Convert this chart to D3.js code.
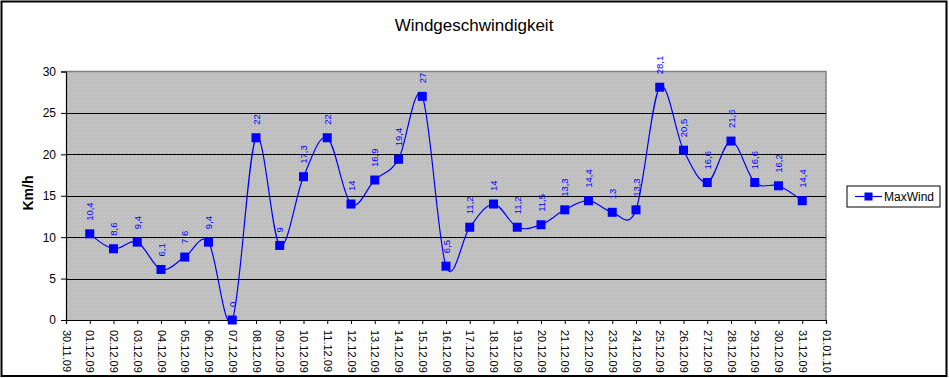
<!DOCTYPE html>
<html>
<head>
<meta charset="utf-8">
<script src="https://cdn.jsdelivr.net/npm/d3@7/dist/d3.min.js"></script>
<style>
  html, body { margin: 0; padding: 0; background: #fff; }
  svg { display: block; }
  text { font-family: Arial, "Liberation Sans", sans-serif; }
</style>
</head>
<body>
<svg id="chart" width="949" height="378"></svg>
<script>
// ---- data ----
const tickLabels = ["30.11.09","01.12.09","02.12.09","03.12.09","04.12.09","05.12.09","06.12.09","07.12.09",
  "08.12.09","09.12.09","10.12.09","11.12.09","12.12.09","13.12.09","14.12.09","15.12.09","16.12.09",
  "17.12.09","18.12.09","19.12.09","20.12.09","21.12.09","22.12.09","23.12.09","24.12.09","25.12.09",
  "26.12.09","27.12.09","28.12.09","29.12.09","30.12.09","31.12.09","01.01.10"];
const dayIndex = [1,2,3,4,5,6,7,8,9,10,11,12,13,14,15,16,17,18,19,20,21,22,23,24,25,26,27,28,29,30,31];
const maxWind = [10.4,8.6,9.4,6.1,7.6,9.4,0,22,9,17.3,22,14,16.9,19.4,27,6.5,11.2,14,11.2,11.5,13.3,14.4,13,13.3,28.1,20.5,16.6,21.6,16.6,16.2,14.4];
const yTicks = [0,5,10,15,20,25,30];
const seriesName = "MaxWind";
const chartTitle = "Windgeschwindigkeit";
const yTitle = "Km/h";

const svg = d3.select("#chart");
const W = 949, H = 378;
const pLeft = 66, pRight = 826, pTop = 71.5, pBottom = 320;

// outer frame
svg.append("rect").attr("x", 1.5).attr("y", 1.5).attr("width", W - 4).attr("height", H - 3.5)
  .attr("fill", "#fff").attr("stroke", "#000").attr("stroke-width", 2);

// pattern for plot texture
const defs = svg.append("defs");
const pat = defs.append("pattern").attr("id", "dots").attr("patternUnits", "userSpaceOnUse")
  .attr("width", 4).attr("height", 4);
pat.append("rect").attr("width", 4).attr("height", 4).attr("fill", "#bebebe");
pat.append("rect").attr("x", 0).attr("y", 0).attr("width", 1).attr("height", 1).attr("fill", "#d4d4d4");
pat.append("rect").attr("x", 2).attr("y", 2).attr("width", 1).attr("height", 1).attr("fill", "#cccccc");

const x = d3.scaleLinear().domain([0, tickLabels.length - 1]).range([pLeft, pRight]);
const y = d3.scaleLinear().domain([0, 30]).range([pBottom, pTop]);

// plot area
svg.append("rect").attr("x", pLeft).attr("y", pTop).attr("width", pRight - pLeft).attr("height", pBottom - pTop)
  .attr("fill", "url(#dots)");
svg.append("path").attr("d", `M${pLeft},${pTop}H${pRight}V${pBottom}`)
  .attr("fill", "none").attr("stroke", "#808080").attr("stroke-width", 1.5);

// gridlines
svg.append("g").selectAll("line").data(yTicks.filter(d => d > 0 && d < 30)).join("line")
  .attr("x1", pLeft).attr("x2", pRight)
  .attr("y1", d => Math.round(y(d)) + 0.5).attr("y2", d => Math.round(y(d)) + 0.5)
  .attr("stroke", "#000").attr("stroke-width", 1.2);

// y axis
const yAxis = d3.axisLeft(y).tickValues(yTicks).tickSize(5).tickPadding(5).tickFormat(d => d);
const gy = svg.append("g").attr("transform", `translate(${pLeft},0)`).call(yAxis);
gy.select(".domain").attr("stroke", "#000").attr("stroke-width", 1.2);
gy.selectAll(".tick line").attr("stroke", "#000");
gy.selectAll(".tick text").attr("font-size", 12).attr("fill", "#000").style("font-family", "Arial, 'Liberation Sans', sans-serif");

// x axis
const xAxis = d3.axisBottom(x).tickValues(d3.range(tickLabels.length)).tickSize(4).tickFormat(i => tickLabels[i]);
const gx = svg.append("g").attr("transform", `translate(0,${pBottom})`).call(xAxis);
gx.select(".domain").attr("stroke", "#000").attr("stroke-width", 1.2);
gx.selectAll(".tick line").attr("stroke", "#000");
gx.selectAll(".tick text")
  .attr("font-size", 11).attr("fill", "#000").style("font-family", "Arial, 'Liberation Sans', sans-serif")
  .attr("text-anchor", "start").attr("dy", null).attr("y", 0)
  .attr("transform", "translate(-4,10) rotate(90)");

// line
const line = d3.line().x((d, i) => x(dayIndex[i])).y(d => y(d)).curve(d3.curveCardinal.tension(0));
svg.append("path").datum(maxWind).attr("d", line)
  .attr("fill", "none").attr("stroke", "#0000ff").attr("stroke-width", 1.2);

// markers
svg.append("g").selectAll("rect").data(maxWind).join("rect")
  .attr("x", (d, i) => x(dayIndex[i]) - 4.5).attr("y", d => y(d) - 4.5)
  .attr("width", 9).attr("height", 9).attr("fill", "#0000ff");

// data labels
svg.append("g").selectAll("text").data(maxWind).join("text")
  .attr("transform", (d, i) => `translate(${x(dayIndex[i]) + 3.5},${y(d) - 13}) rotate(-90)`)
  .attr("text-anchor", "start").attr("font-size", 9.5).attr("fill", "#0000ff")
  .text(d => String(d).replace(".", ","));

// title
svg.append("text").attr("x", 474).attr("y", 31).attr("text-anchor", "middle")
  .attr("font-size", 17).attr("fill", "#000").text(chartTitle);

// y title
svg.append("text").attr("transform", `translate(33,193) rotate(-90)`).attr("text-anchor", "middle")
  .attr("font-size", 14).attr("font-weight", "bold").attr("fill", "#000").text(yTitle);

// legend
const lg = svg.append("g");
lg.append("rect").attr("x", 847).attr("y", 186).attr("width", 93).attr("height", 21)
  .attr("fill", "#fff").attr("stroke", "#000").attr("stroke-width", 1);
lg.append("line").attr("x1", 855).attr("x2", 882).attr("y1", 196.5).attr("y2", 196.5)
  .attr("stroke", "#0000ff").attr("stroke-width", 1.2);
lg.append("rect").attr("x", 864.5).attr("y", 192.5).attr("width", 8).attr("height", 8).attr("fill", "#0000ff");
lg.append("text").attr("x", 884).attr("y", 201).attr("font-size", 12).attr("fill", "#000").text(seriesName);
</script>
</body>
</html>
